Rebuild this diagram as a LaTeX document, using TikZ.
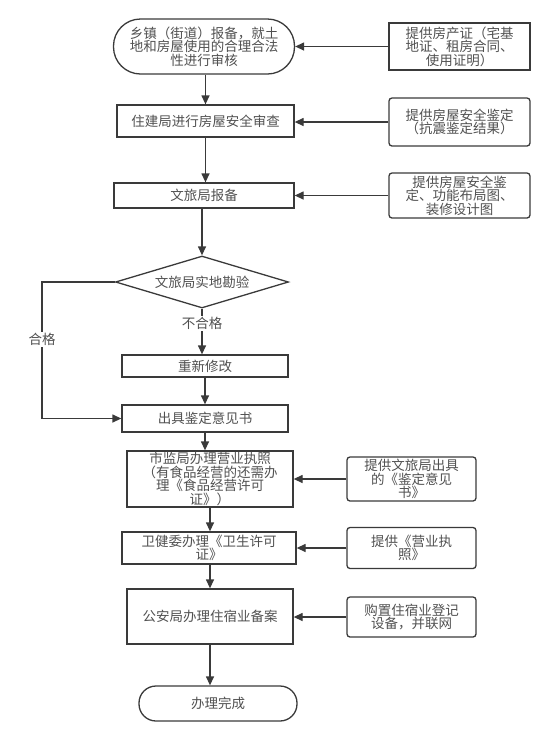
\documentclass[tikz,border=0pt]{standalone}
\usepackage{fontspec}
\newfontfamily\cjk{Noto Sans CJK SC}
\usetikzlibrary{arrows.meta,shapes.geometric}
\definecolor{ln}{HTML}{3A3A3A}
\definecolor{tx}{HTML}{505050}
\begin{document}
\begin{tikzpicture}[x=1pt,y=-1pt,
  txt/.style={font=\cjk\fontsize{13.5}{13.5}\selectfont, text=tx, align=center},
  box/.style={txt, draw=ln, line width=1.3pt, inner sep=1pt},
  rbox/.style={box, rounded corners=3pt},
  arr/.style={draw=ln, line width=1.3pt, -{Triangle[length=9pt,width=8pt]}},
  lab/.style={txt, fill=white, inner sep=1.5pt}
]
\useasboundingbox (0,0) rectangle (556,740);

% main column
\node[box, rounded corners=27pt, minimum width=181pt, minimum height=55pt] (n1) at (204,46.5)
  {乡镇（街道）报备，就土\\地和房屋使用的合理合法\\性进行审核};
\node[box, minimum width=177pt, minimum height=32pt] (n2) at (205.5,121) {住建局进行房屋安全审查};
\node[box, minimum width=180pt, minimum height=25pt] (n3) at (204,195.5) {文旅局报备};
\node[draw=ln, line width=1.3pt, diamond, minimum width=173pt, minimum height=52pt, inner sep=0pt] (d) at (202,282) {};
\node[txt] (dt) at (d) {文旅局实地勘验};
\node[box, minimum width=166pt, minimum height=22pt] (cx) at (205,366) {重新修改};
\node[box, minimum width=166pt, minimum height=27pt] (cj) at (205,418.5) {出具鉴定意见书};
\node[box, minimum width=166pt, minimum height=56pt] (sj) at (210,479) {市监局办理营业执照\\（有食品经营的还需办\\理《食品经营许可\\证》）};
\node[box, minimum width=174pt, minimum height=32pt] (wj) at (209,548) {卫健委办理《卫生许可\\证》};
\node[box, minimum width=166pt, minimum height=55pt] (ga) at (210,616.5) {公安局办理住宿业备案};
\node[box, rounded corners=17pt, minimum width=158pt, minimum height=35pt] (done) at (218,703.5) {办理完成};

% right column
\node[box, line width=1.6pt, minimum width=141pt, minimum height=47pt] (r1) at (459.5,46.5) {提供房产证（宅基\\地证、租房合同、\\使用证明）};
\node[rbox, minimum width=141pt, minimum height=48pt] (r2) at (459.5,122) {提供房屋安全鉴定\\（抗震鉴定结果）};
\node[rbox, minimum width=141pt, minimum height=45pt] (r3) at (459.5,195.5) {提供房屋安全鉴\\定、功能布局图、\\装修设计图};
\node[rbox, minimum width=129pt, minimum height=44pt] (r4) at (411.5,479) {提供文旅局出具\\的《鉴定意见\\书》};
\node[rbox, minimum width=129pt, minimum height=41pt] (r5) at (411.5,548) {提供《营业执\\照》};
\node[rbox, minimum width=129pt, minimum height=40pt] (r6) at (411.5,617) {购置住宿业登记\\设备，并联网};

% vertical flow
\draw[arr] (n2.north |- n1.south) -- (n2.north);
\draw[arr] (n2.south) -- (n2.south |- n3.north);
\draw[arr] (n3.south -| d.north) -- (d.north);
\draw[arr] (d.south) -- node[lab, pos=0.33] (bhg) {不合格} (d.south |- cx.north);
\draw[arr] (cx.south) -- (cj.north);
\coordinate (lc) at (42,282);
\draw[arr] (d.west) -- (lc) -- node[lab, pos=0.42] (hg) {合格} (lc |- cj.west) -- (cj.west);
\draw[arr] (cj.south) -- (cj.south |- sj.north);
\draw[arr] (sj.south) -- (wj.north -| sj.south);
\draw[arr] (wj.south -| sj.south) -- (ga.north);
\draw[arr] (ga.south) -- (ga.south |- done.north);

% side arrows
\draw[arr] (r1.west) -- (n1.east);
\draw[arr] (r2.west) -- (r2.west -| n2.east);
\draw[arr] (r3.west) -- (r3.west -| n3.east);
\draw[arr] (r4.west) -- (sj.east);
\draw[arr] (r5.west) -- (wj.east);
\draw[arr] (r6.west) -- (r6.west -| ga.east);
\end{tikzpicture}
\end{document}
